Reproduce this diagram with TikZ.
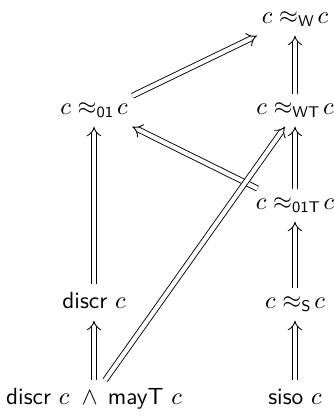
\documentclass[tikz,border=0pt]{standalone}
\usetikzlibrary{arrows.meta}
\begin{document}
\begin{tikzpicture}[x=0.45pt,y=-0.45pt,
  every node/.style={font=\fontsize{10.5}{12.5}\selectfont\sffamily, anchor=base, inner xsep=2pt, inner ysep=3.5pt,
    text height=7pt, text depth=2pt},
  rel/.style={text height=5.5pt},
  imp/.style={double, double distance=1.9pt, line width=0.4pt, -{Implies}}]
\useasboundingbox (0,0) rectangle (333,416);
\node[rel, text height=4.8pt] (cW) at (295,23)  {$c \approx_{\mathsf{W}}\! c$};
\node[rel] (c01)  at (94,114)  {$c \approx_{\mathsf{01}}\! c$};
\node[rel] (cWT)  at (295,114) {$c \approx_{\mathsf{WT}}\! c$};
\node[rel] (c01T) at (295,209) {$c \approx_{\mathsf{01T}}\! c$};
\node (dis)  at (94,308)  {discr $c$};
\node[rel] (cS)   at (295,308) {$c \approx_{\mathsf{S}}\! c$};
\node (dm)   at (94,404)  {discr $c$\hspace{2pt} $\wedge$\hspace{1pt} mayT $c$};
\node (siso) at (295,404) {siso $c$};
\draw[imp] (cWT) -- (cW);
\draw[imp] (c01T) -- (cWT);
\draw[imp] (cS) -- (c01T);
\draw[imp] (siso) -- (cS);
\draw[imp] (dis) -- (c01);
\draw[imp] (dm) -- (dis);
\draw[imp] ([yshift=-1pt]c01.north east) -- (cW.south west);
\draw[imp] ([xshift=3pt]c01T.north west) -- (c01.south east);
\draw[imp] ([xshift=5pt]dm.north) -- ([xshift=-4.5pt]cWT.south);
\end{tikzpicture}
\end{document}
